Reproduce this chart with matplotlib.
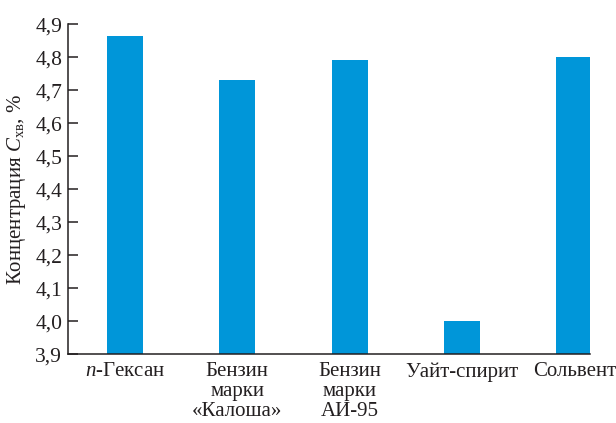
import matplotlib
matplotlib.use('Agg')
import matplotlib.pyplot as plt

plt.rcParams['font.family'] = ['Liberation Serif', 'DejaVu Serif']
plt.rcParams['mathtext.fontset'] = 'custom'
plt.rcParams['mathtext.rm'] = 'Liberation Serif'
plt.rcParams['mathtext.it'] = 'Liberation Serif:italic'

# данные
categories = ['$\\it{n}$-Гексан', 'Бензин\nмарки\n«Калоша»', 'Бензин\nмарки\nАИ-95',
              'Уайт-спирит', 'Сольвент']
values = [4.865, 4.73, 4.79, 4.0, 4.80]
yticks = [3.9, 4.0, 4.1, 4.2, 4.3, 4.4, 4.5, 4.6, 4.7, 4.8, 4.9]

fig = plt.figure(figsize=(6.16, 4.23), dpi=100)
ax = fig.add_axes([0.110, 0.163, 0.848, 0.780])

x = range(len(values))
ax.bar(x, [v - 3.9 for v in values], bottom=3.9, width=0.32, color='#0096D9')

ax.set_xlim(-0.507, 4.14)
ax.set_ylim(3.9, 4.9)
ax.set_yticks(yticks)
ax.set_yticklabels([('%.1f' % t).replace('.', ',') for t in yticks])
ax.set_xticks(list(x))
ax.set_xticklabels(categories, va='top', ha='center', linespacing=1.05)

txt = '#231f20'
ax.tick_params(axis='y', direction='in', length=7, width=1.1, pad=4,
               labelsize=15.5, colors=txt)
ax.tick_params(axis='x', length=0, pad=6, labelsize=15, colors=txt)
for s in ['top', 'right']:
    ax.spines[s].set_visible(False)
for s in ['left', 'bottom']:
    ax.spines[s].set_linewidth(1.1)
    ax.spines[s].set_color(txt)

ax.set_ylabel('Концентрация $\\it{C}_{\\rm{хв}}$, %', fontsize=15, color=txt, labelpad=5)

fig.savefig('out.png', dpi=100)
